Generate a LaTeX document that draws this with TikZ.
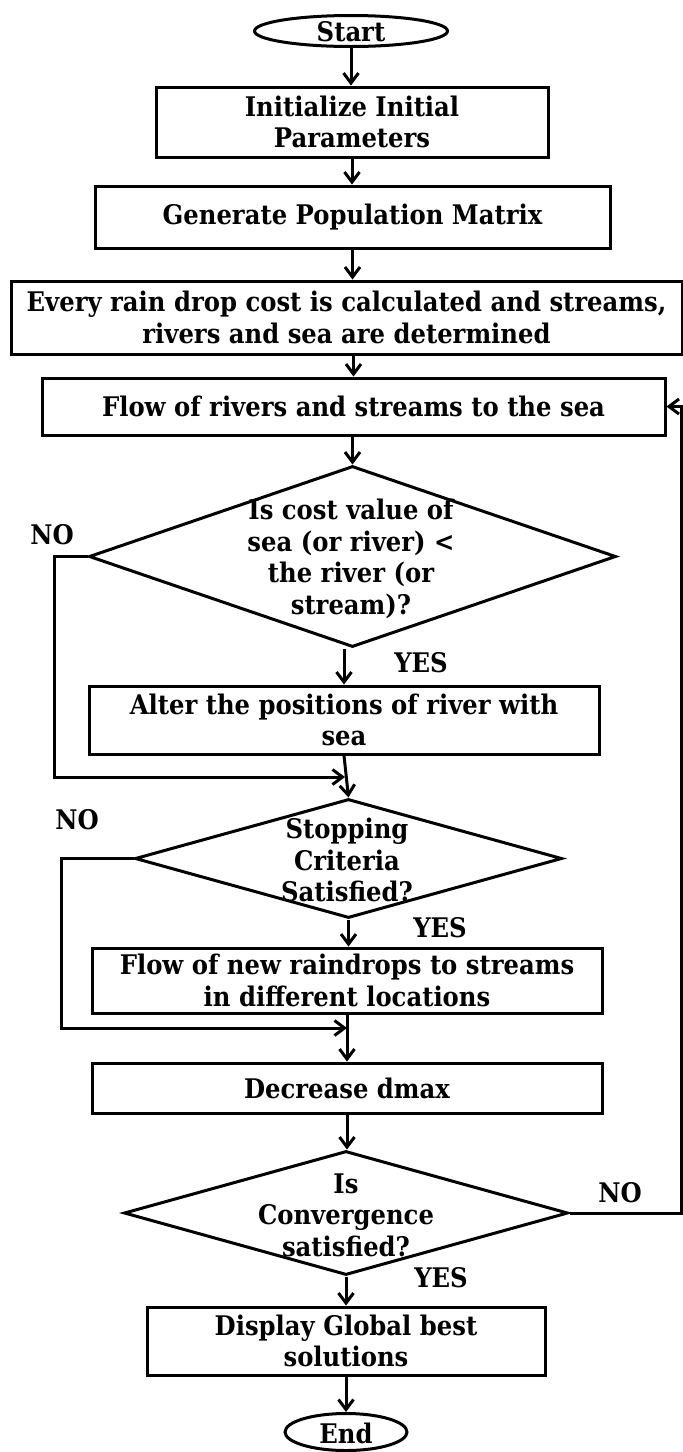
\documentclass[tikz,border=0pt]{standalone}
\usepackage{fontspec}
\newfontfamily\ff{DejaVu Serif}[FakeStretch=0.9]
\usetikzlibrary{shapes.geometric,arrows.meta}
\tikzset{
  lw/.style={line width=3pt},
  txt/.style={font=\ff\bfseries\fontsize{27}{31.5}\selectfont, align=center, inner sep=0pt},
  box/.style={draw, lw, rectangle, inner sep=0pt, txt},
  oval/.style={draw, lw, ellipse, inner sep=0pt},
  dia/.style={draw, lw, diamond, inner sep=0pt},
  arr/.style={lw, -{Straight Barb[length=10pt,width=15pt,line width=3pt]}},
  ln/.style={lw}
}
\begin{document}
\begin{tikzpicture}[x=1pt,y=-1pt]
\useasboundingbox (0,0) rectangle (683,1452);
\fill[white] (0,0) rectangle (683,1452);

\node[oval, minimum width=193pt, minimum height=31pt] (start) at (351,31) {};
\node[txt] (startt) at (351,32) {Start};
\node[box, minimum width=392pt, minimum height=70pt] (init) at (352,122) {Initialize Initial\\Parameters};
\node[box, minimum width=515pt, minimum height=62pt] (gen) at (352.5,217) {Generate Population Matrix};
\node[box, minimum width=671pt, minimum height=73pt] (every) at (346.5,317.5) {Every rain drop cost is calculated and streams,\\rivers and sea are determined};
\node[box, minimum width=623pt, minimum height=57pt] (flow) at (353.5,406.5) {Flow of rivers and streams to the sea};
\node[dia, minimum width=527pt, minimum height=181pt] (d1) at (352.5,556.5) {};
\node[txt] (d1t) at (351,559) {Is cost value of\\sea (or river) <\\the river (or\\stream)?};
\node[box, minimum width=510pt, minimum height=68pt] (alter) at (344,720) {Alter the positions of river with\\sea};
\node[dia, minimum width=427pt, minimum height=119pt] (d2) at (348.5,858.5) {};
\node[txt] (d2t) at (347,860) {Stopping\\Criteria\\Satisfied?};
\node[box, minimum width=510pt, minimum height=65pt] (new) at (347,980.5) {Flow of new raindrops to streams\\in different locations};
\node[box, minimum width=510pt, minimum height=50pt] (dec) at (347,1088) {Decrease dmax};
\node[dia, minimum width=444pt, minimum height=124pt] (d3) at (346,1213) {};
\node[txt] (d3t) at (346,1215) {Is\\Convergence\\satisfied?};
\node[box, minimum width=398pt, minimum height=68pt] (disp) at (346,1341) {Display Global best\\solutions};
\node[oval, minimum width=122pt, minimum height=37pt] (end) at (346,1432) {};
\node[txt] (endt) at (346,1433) {End};

\node[txt] (no1) at (52,535) {NO};
\node[txt] (yes1) at (421,663) {YES};
\node[txt] (no2) at (77,820) {NO};
\node[txt] (yes2) at (440,928) {YES};
\node[txt] (no3) at (620,1193) {NO};
\node[txt] (yes3) at (441,1278) {YES};

\coordinate (m1) at (345,777);
\coordinate (m2) at (347,1028);
\coordinate (r3) at (681,1213);

\draw[arr] (start.south) -- (start.south |- init.north);
\draw[arr] (init.south) -- (init.south |- gen.north);
\draw[arr] (gen.south) -- (gen.south |- every.north);
\draw[arr] (flow.north |- every.south) -- (flow.north);
\draw[arr] (flow.south -| d1.north) -- (d1.north);
\draw[arr] (alter.north |- d1.south) -- (alter.north);
\draw[arr] (alter.south) -- (d2.north);
\draw[arr] (d1.west) -- (54,556.5) -- (54,777) -- (m1);
\draw[arr] (d2.south) -- (d2.south |- new.north);
\draw[arr] (new.south) -- (new.south |- dec.north);
\draw[arr] (d2.west) -- (61,858.5) -- (61,1028) -- (m2);
\draw[arr] (dec.south) -- (dec.south |- d3.north);
\draw[arr] (d3.south) -- (d3.south |- disp.north);
\draw[arr] (disp.south) -- (disp.south |- end.north);
\draw[arr] (d3.east) -- (r3) -- (r3 |- flow.east) -- (flow.east);
\end{tikzpicture}
\end{document}
